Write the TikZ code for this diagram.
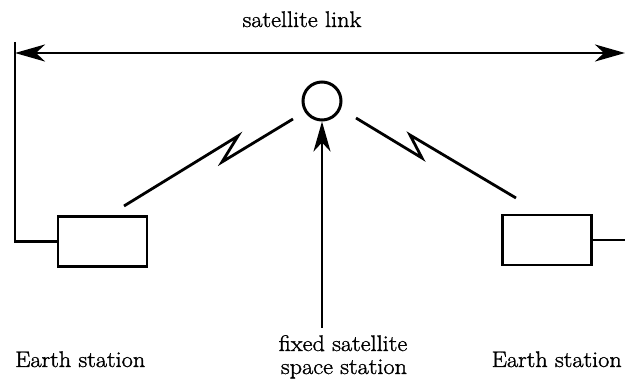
\documentclass[tikz,border=0pt]{standalone}
\usepackage{fontspec}
\setmainfont{Latin Modern Roman}[FakeBold=1.4, FakeStretch=1.08]
\usetikzlibrary{arrows.meta}
\begin{document}
\begin{tikzpicture}[x=1pt,y=-1pt,
  wire/.style={line width=2.8pt, line join=miter},
  head/.style={-{Stealth[length=30pt,width=17pt,inset=9pt]}},
  twohead/.style={{Stealth[length=30pt,width=17pt,inset=9pt]}-{Stealth[length=30pt,width=17pt,inset=9pt]}},
  station/.style={draw, line width=2.8pt, minimum width=89pt, minimum height=50pt, inner sep=0pt},
  sat/.style={draw, circle, line width=3pt, minimum size=38pt, inner sep=0pt},
  lbl/.style={inner sep=0pt, font=\fontsize{22.5}{27}\selectfont}]
  \useasboundingbox (0,0) rectangle (625,382);

  % stations and satellite
  \node[station] (eL) at (102.5,241.5) {};
  \node[station] (eR) at (547,240) {};
  \node[sat] (sat) at (322,101) {};

  % satellite link with its feeder lines
  \coordinate (linkL) at (15,53);
  \coordinate (linkR) at (625,53);
  \coordinate (topL) at (15,42);
  \coordinate (stubR) at (625,240);
  \draw[wire, twohead] (linkL) -- (linkR);
  \draw[wire] (topL) |- (eL.west);
  \draw[wire] (eR.east) -- (stubR);

  % radio paths (zigzag)
  \coordinate (zL0) at (124,206);
  \coordinate (zL1) at (238,136);
  \coordinate (zL2) at (222,162);
  \coordinate (zL3) at (293,119);
  \draw[wire] (zL0) -- (zL1) -- (zL2) -- (zL3);
  \coordinate (zR0) at (356,118);
  \coordinate (zR1) at (422,158);
  \coordinate (zR2) at (410,135);
  \coordinate (zR3) at (516,198);
  \draw[wire] (zR0) -- (zR1) -- (zR2) -- (zR3);

  % pointer to the space station
  \coordinate (ptr) at (322,328);
  \draw[wire, head] (ptr) -- (sat.south);

  % labels
  \node[lbl, anchor=base] (title) at (302,27) {satellite link};
  \node[lbl, anchor=base west] (tL) at (15,367) {Earth station};
  \node[lbl, anchor=base east] (tR) at (622,367) {Earth station};
  \node[lbl, anchor=base] (tC1) at (343,351) {fixed satellite};
  \node[lbl, anchor=base] (tC2) at (344,374) {space station};
\end{tikzpicture}
\end{document}
